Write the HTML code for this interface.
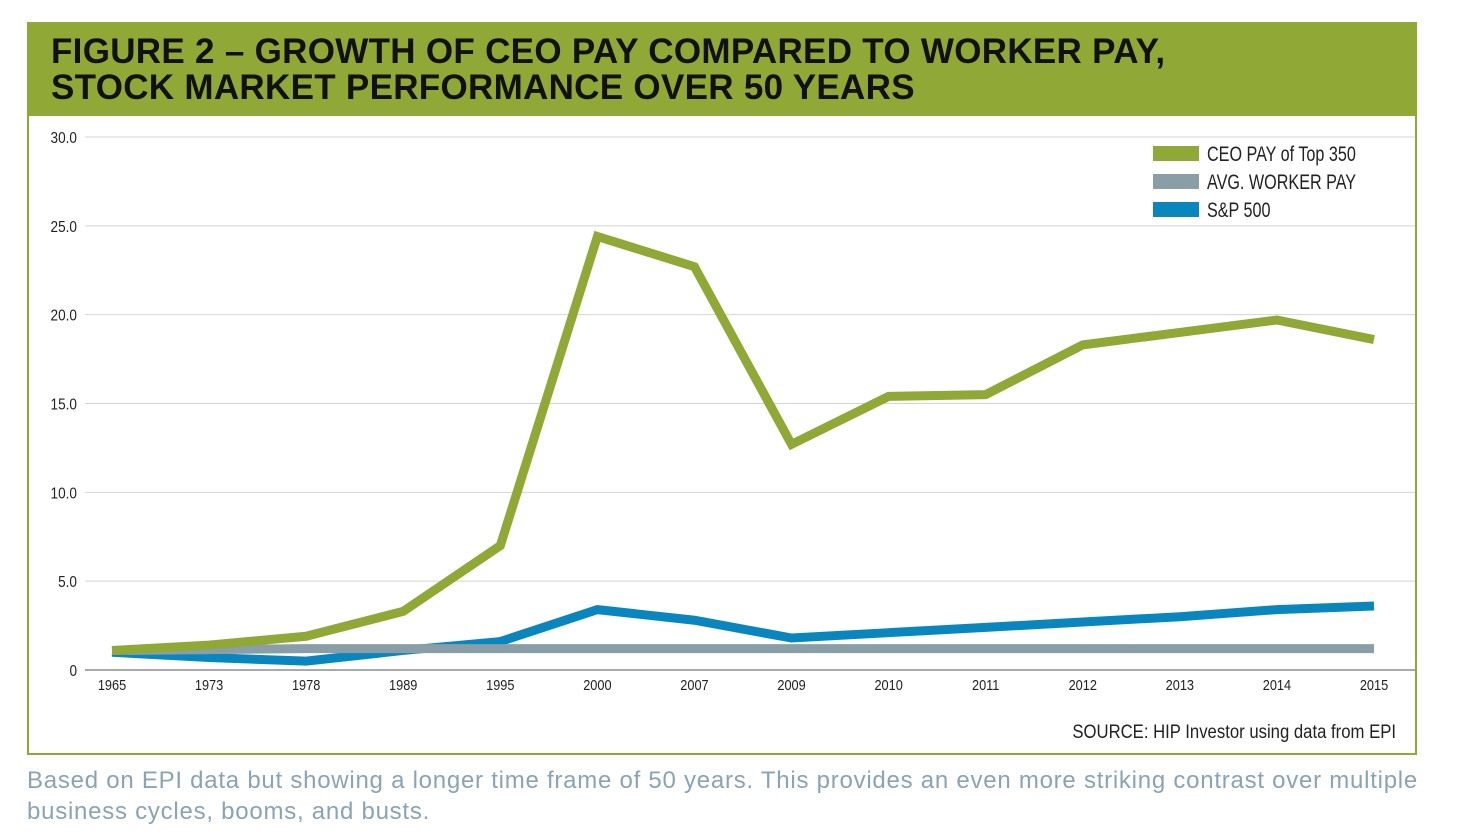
<!DOCTYPE html>
<html><head><meta charset="utf-8"><style>
body{margin:0;background:#fff;width:1458px;height:838px;overflow:hidden;font-family:"Liberation Sans",sans-serif;position:relative}
#frame{position:absolute;left:27px;top:22px;width:1386px;height:729px;border:2px solid #8fa836;}
#header{position:absolute;left:0;top:0;width:1386px;height:92px;background:#8fa836}
#title{position:absolute;left:22px;top:10px;font-weight:bold;font-size:35px;line-height:36px;color:#111;letter-spacing:0.3px}
#caption{position:absolute;left:27px;top:765px;width:1410px;font-size:24px;line-height:31px;color:#8aa3b5;letter-spacing:0.75px}
svg{position:absolute;left:0;top:0}
</style></head><body>
<div id="frame">
<div id="header">
<div id="title">FIGURE 2 – GROWTH OF CEO PAY COMPARED TO WORKER PAY,<br>STOCK MARKET PERFORMANCE OVER 50 YEARS</div></div>
</div>
<svg id="chart" width="1458" height="838"></svg>
<div id="caption">Based on EPI data but showing a longer time frame of 50 years. This provides an even more striking contrast over multiple<br>business cycles, booms, and busts.</div>
<script>
const years=["1965","1973","1978","1989","1995","2000","2007","2009","2010","2011","2012","2013","2014","2015"];
const ceoPay=[1.1,1.4,1.9,3.3,7.0,24.4,22.7,12.7,15.4,15.5,18.3,19.0,19.7,18.6];
const workerPay=[1.1,1.15,1.2,1.2,1.2,1.2,1.2,1.2,1.2,1.2,1.2,1.2,1.2,1.2];
const sp500=[1.0,0.7,0.5,1.1,1.6,3.4,2.8,1.8,2.1,2.4,2.7,3.0,3.4,3.6];
const yTicks=[0,5,10,15,20,25,30];
const yTickLabels=["0","5.0","10.0","15.0","20.0","25.0","30.0"];
const NS="http://www.w3.org/2000/svg",svg=document.getElementById('chart');
const x=i=>112+i*(1374-112)/(years.length-1);
const y=v=>670-v*(670-137)/30;
function el(t,a,p){const e=document.createElementNS(NS,t);for(const k in a)e.setAttribute(k,a[k]);(p||svg).appendChild(e);return e;}
yTicks.forEach((t,i)=>{
 const g=el('line',{x1:85,x2:1415,y1:y(t),y2:y(t),stroke:t==0?'#aaa':'#d4d4d4','stroke-width':t==0?2:1});
 
 
 const l=el('text',{x:77,y:y(t)+6,'text-anchor':'end','font-size':16,fill:'#222',transform:`translate(77 0) scale(0.85 1) translate(-77 0)`});l.textContent=yTickLabels[i];
 
 
});
years.forEach((yr,i)=>{
 const l=el('text',{x:x(i),y:690,'text-anchor':'middle','font-size':15,fill:'#222',transform:`translate(${x(i)} 0) scale(0.85 1) translate(${-x(i)} 0)`});l.textContent=yr;
 
 
});
function line(vals,color,name){
 const p=el('polyline',{points:vals.map((v,i)=>x(i)+','+y(v)).join(' '),fill:'none',stroke:color,'stroke-width':9,'stroke-linejoin':'miter'});
 
 
}
line(sp500,'#0a86bf','sp500-line');
line(workerPay,'#8a9ea7','worker-pay-line');
line(ceoPay,'#8fa836','ceo-pay-line');
const leg=[["CEO PAY of Top 350",'#8fa836'],["AVG. WORKER PAY",'#8a9ea7'],["S&P 500",'#0a86bf']];
leg.forEach((d,i)=>{
 const r=el('rect',{x:1153,y:146+i*28,width:46,height:15,fill:d[1]});
 
 
 const t=el('text',{x:1207,y:161+i*28,'font-size':21,fill:'#222',transform:`translate(1207 0) scale(0.77 1) translate(-1207 0)`});t.textContent=d[0];
 
 
});
const s=el('text',{x:1396,y:738,'text-anchor':'end','font-size':19,fill:'#222',transform:`translate(1396 0) scale(0.88 1) translate(-1396 0)`});s.textContent="SOURCE: HIP Investor using data from EPI";


</script>
</body></html>
